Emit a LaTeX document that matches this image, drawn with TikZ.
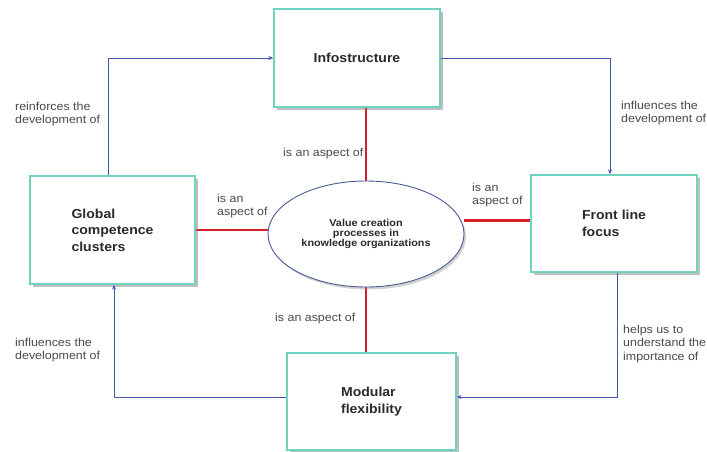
\documentclass[tikz,border=0pt]{standalone}
\usepackage{fontspec}
\setmainfont[FakeStretch=1.08]{Liberation Sans}
\usetikzlibrary{shapes.geometric,shadows,arrows.meta}
\definecolor{boxc}{HTML}{6FD3C0}
\definecolor{bluec}{HTML}{4656B0}
\definecolor{redc}{HTML}{D8202C}
\definecolor{ellc}{HTML}{4A5A95}
\definecolor{txtc}{HTML}{2A2A2A}
\pgfdeclarelayer{bg}
\pgfdeclarelayer{paper}
\pgfsetlayers{paper,bg,main}
\tikzset{
  boxstyle/.style={draw=boxc, line width=1.3pt, fill=white, inner sep=0pt,
    drop shadow={shadow xshift=3pt, shadow yshift=-3pt, opacity=.45, fill=black!55},
    font=\bfseries\fontsize{13}{16.5}\selectfont, align=left, text=txtc},
  ellstyle/.style={ellipse, draw=ellc, line width=0.9pt, fill=white, inner sep=0pt,
    drop shadow={shadow xshift=2pt, shadow yshift=-2.5pt, opacity=.35, fill=black!50},
    font=\bfseries\fontsize{10}{10}\selectfont, align=center, text=txtc},
  lbl/.style={anchor=west, inner sep=0pt, align=left, text=txtc!85,
    font=\fontsize{11.5}{13.5}\selectfont},
  blueline/.style={draw=bluec, line width=0.8pt, -{Stealth[length=5pt,width=4pt]}},
  redline/.style={draw=redc, line width=2.2pt}
}
\begin{document}
\begin{tikzpicture}[x=1pt,y=-1pt]
\useasboundingbox (0,0) rectangle (707,452);
\begin{pgfonlayer}{paper}
\fill[white] (0,0) rectangle (707,452);
\end{pgfonlayer}

\node[boxstyle, minimum width=166pt, minimum height=98pt] (info) at (357,58) {Infostructure};
\node[boxstyle, minimum width=165pt, minimum height=108pt] (glob) at (112.5,230) {Global\\competence\\clusters};
\node[boxstyle, minimum width=166pt, minimum height=97pt] (front) at (614,223.5) {Front line\\focus};
\node[boxstyle, minimum width=169pt, minimum height=97pt] (mod) at (371.5,401.5) {Modular\\flexibility};
\node[ellstyle, minimum width=196pt, minimum height=106pt] (ell) at (366,234) {Value creation\\processes in\\knowledge organizations};

\begin{pgfonlayer}{bg}
\draw[redline] (info.south -| ell.north) -- (ell.north);
\draw[redline] (ell.south) -- (ell.south |- mod.north);
\draw[redline] (glob.east) -- (glob.east -| ell.west);
\draw[redline] ([yshift=3pt]front.west) -- ([yshift=3pt]front.west -| ell.east);
\end{pgfonlayer}

\draw[blueline] ([xshift=-4.5pt]glob.north) |- (info.west);
\draw[blueline] (info.east) -| ([xshift=-4pt]front.north);
\draw[blueline] ([xshift=3pt]front.south) |- ([yshift=4.5pt]mod.east);
\draw[blueline] ([yshift=4.5pt]mod.west) -| ([xshift=1.5pt]glob.south);

\node[lbl] (l1) at (15,114) {reinforces the\\development of};
\node[lbl] (l2) at (621,113) {influences the\\development of};
\node[lbl] (l3) at (283,154) {is an aspect of};
\node[lbl] (l4) at (217,206) {is an\\aspect of};
\node[lbl] (l5) at (472,195) {is an\\aspect of};
\node[lbl] (l6) at (275,319) {is an aspect of};
\node[lbl] (l7) at (15,350) {influences the\\development of};
\node[lbl] (l8) at (623,344) {helps us to\\understand the\\importance of};
\end{tikzpicture}
\end{document}
